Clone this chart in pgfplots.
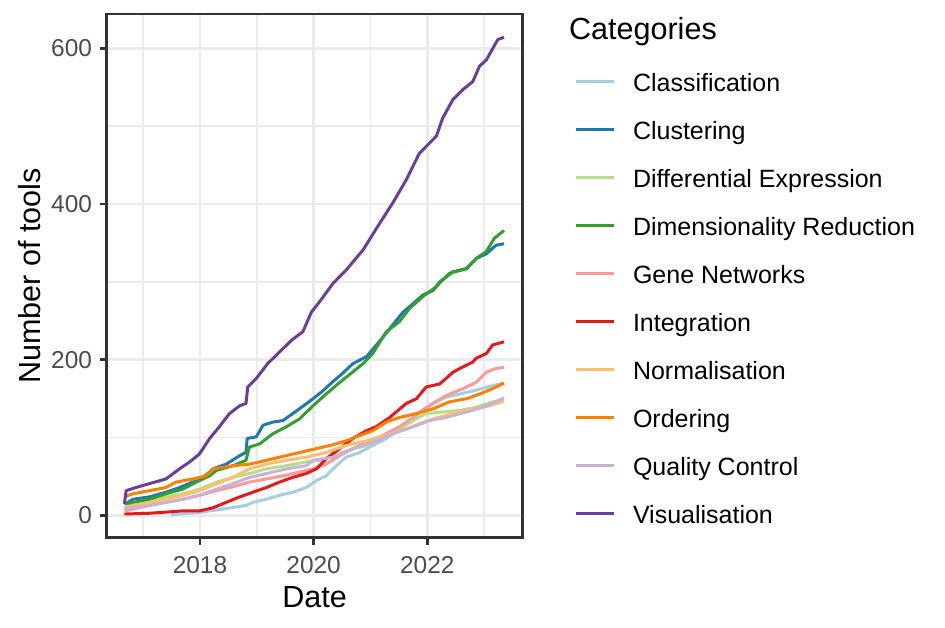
\documentclass[border=0pt]{standalone}
\usepackage{fontspec}
\setmainfont{Liberation Sans}
\usepackage{pgfplots}
\pgfplotsset{compat=1.18}

% ColorBrewer "Paired"
\definecolor{classif}{HTML}{A6CEE3}
\definecolor{cluster}{HTML}{1F78B4}
\definecolor{diffexp}{HTML}{B2DF8A}
\definecolor{dimred}{HTML}{33A02C}
\definecolor{genenet}{HTML}{FB9A99}
\definecolor{integr}{HTML}{E31A1C}
\definecolor{normal}{HTML}{FDBF6F}
\definecolor{order}{HTML}{FF7F00}
\definecolor{qualctl}{HTML}{CAB2D6}
\definecolor{visual}{HTML}{6A3D9A}
\definecolor{grey92}{gray}{0.92}
\definecolor{grey20}{gray}{0.2}
\definecolor{grey30}{gray}{0.3}

\begin{document}
\begin{tikzpicture}
\useasboundingbox (0,0) rectangle (340.2bp,-226.08bp);
\begin{axis}[
    at={(38.41bp,-193.57bp)}, anchor=south west,
    width=149.76bp, height=188.53bp, scale only axis,
    xmin=2016.358, xmax=2023.679,
    ymin=-28.4, ymax=643.9,
    xtick={2018,2020,2022}, xticklabels={2018,2020,2022},
    minor xtick={2017,2019,2021,2023},
    ytick={0,200,400,600}, minor ytick={100,300,500},
    grid=both,
    major grid style={grey92, line width=1.07bp},
    minor grid style={grey92, line width=0.53bp},
    tick pos=left, tick align=outside,
    major tick length=2.5bp, minor tick length=0pt,
    every tick/.style={grey20, line width=1.07bp},
    axis line style={grey20, line width=1.07bp},
    /pgf/number format/assume math mode=true,
    ticklabel style={font=\fontsize{8.8bp}{10bp}\selectfont, text=grey30, inner sep=0pt},
    yticklabel style={xshift=-2.6bp},
    xticklabel style={yshift=-3.9bp},
    xlabel={Date}, ylabel={Number of tools},
    label style={font=\fontsize{11bp}{13bp}\selectfont, inner sep=0pt},
    xlabel style={at={(axis description cs:0.5,-0.1335)}, anchor=base},
    ylabel style={at={(axis description cs:-0.1591,0.5)}, anchor=base},
    legend style={at={(axis description cs:1.1240,0.9166)}, anchor=north west,
        draw=none, fill=none, inner sep=0pt, outer sep=0pt, row sep=0pt,
        font=\fontsize{9bp}{10bp}\selectfont,
        nodes={inner sep=0pt, text height=12.24bp, text depth=5.04bp},
        cells={anchor=west},
        /tikz/every odd column/.append style={column sep=6.4bp}},
    legend image code/.code={\draw[#1] (0bp,0bp) -- (13.68bp,0bp);},
    every axis plot/.append style={line width=1.07bp, line join=round, no markers},
]
\addplot[classif] coordinates {
(2017.49,1) (2017.99,4) (2018.17,6) (2018.46,9) (2018.81,13) (2018.93,17)
(2019.17,21) (2019.40,26) (2019.63,30) (2019.87,36) (2020.05,45) (2020.22,51)
(2020.40,64) (2020.57,75) (2020.81,81) (2021.04,90) (2021.28,99) (2021.51,111)
(2021.75,126) (2021.98,139) (2022.10,144) (2022.33,152) (2022.57,156)
(2022.86,161) (2023.15,167) (2023.35,170)};
\addlegendentry{Classification}
\addplot[cluster] coordinates {
(2016.69,15) (2016.82,21) (2017.11,24) (2017.40,30) (2017.64,36) (2017.87,43)
(2017.99,45) (2018.17,56) (2018.23,60) (2018.46,66) (2018.70,77) (2018.81,81)
(2018.83,99) (2018.99,101) (2019.11,116) (2019.28,120) (2019.46,122)
(2019.75,137) (2019.99,150) (2020.16,160) (2020.34,172) (2020.50,182)
(2020.69,195) (2020.93,204) (2021.22,229) (2021.34,240) (2021.57,261)
(2021.75,272) (2021.92,283) (2022.10,289) (2022.22,300) (2022.45,313)
(2022.69,317) (2022.86,330) (2023.04,336) (2023.21,347) (2023.35,349)};
\addlegendentry{Clustering}
\addplot[diffexp] coordinates {
(2016.67,13) (2017.11,19) (2017.40,24) (2017.70,28) (2017.99,34) (2018.29,43)
(2018.58,49) (2018.87,54) (2019.17,60) (2019.52,64) (2019.87,69) (2020.10,71)
(2020.34,77) (2020.63,84) (2020.93,90) (2021.22,101) (2021.51,111)
(2021.75,122) (2021.98,131) (2022.27,133) (2022.57,135) (2022.86,139)
(2023.15,146) (2023.35,148)};
\addlegendentry{Differential Expression}
\addplot[dimred] coordinates {
(2016.69,13) (2016.82,17) (2017.11,21) (2017.40,28) (2017.70,34) (2017.99,45)
(2018.17,51) (2018.29,58) (2018.58,64) (2018.81,71) (2018.87,88) (2019.05,92)
(2019.28,105) (2019.52,114) (2019.75,124) (2019.99,141) (2020.22,156)
(2020.46,171) (2020.87,195) (2021.04,208) (2021.28,236) (2021.51,249)
(2021.69,266) (2021.92,281) (2022.16,294) (2022.39,311) (2022.69,317)
(2022.86,330) (2023.04,339) (2023.18,356) (2023.35,366)};
\addlegendentry{Dimensionality Reduction}
\addplot[genenet] coordinates {
(2016.67,6) (2017.11,13) (2017.40,17) (2017.70,21) (2017.99,26) (2018.29,32)
(2018.58,37) (2018.87,43) (2019.17,47) (2019.46,51) (2019.75,56) (2019.99,60)
(2020.22,66) (2020.46,77) (2020.69,86) (2020.93,94) (2021.22,103)
(2021.51,114) (2021.75,126) (2021.92,135) (2022.10,144) (2022.33,154)
(2022.63,163) (2022.86,171) (2023.04,184) (2023.21,189) (2023.35,190)};
\addlegendentry{Gene Networks}
\addplot[integr] coordinates {
(2016.67,2) (2017.11,3) (2017.70,6) (2017.99,6) (2018.23,10) (2018.46,17)
(2018.70,24) (2018.93,30) (2019.17,36) (2019.40,43) (2019.63,49) (2019.87,54)
(2020.05,60) (2020.22,73) (2020.46,86) (2020.69,99) (2020.93,109)
(2021.10,114) (2021.34,126) (2021.63,144) (2021.81,150) (2021.98,165)
(2022.22,169) (2022.33,176) (2022.45,184) (2022.63,191) (2022.80,197)
(2022.86,202) (2023.04,208) (2023.15,219) (2023.35,223)};
\addlegendentry{Integration}
\addplot[normal] coordinates {
(2016.67,11) (2017.11,17) (2017.40,21) (2017.70,26) (2017.99,32) (2018.23,39)
(2018.58,49) (2018.87,60) (2019.17,66) (2019.52,71) (2019.87,75) (2020.22,81)
(2020.57,90) (2020.93,96) (2021.28,103) (2021.63,111) (2021.86,118)
(2022.10,124) (2022.45,131) (2022.80,137) (2023.10,141) (2023.35,147)};
\addlegendentry{Normalisation}
\addplot[order] coordinates {
(2016.67,24) (2016.82,28) (2017.11,32) (2017.40,36) (2017.58,43) (2017.87,47)
(2018.11,51) (2018.23,60) (2018.58,64) (2018.87,66) (2019.17,71) (2019.52,77)
(2019.87,83) (2020.05,86) (2020.34,91) (2020.57,96) (2020.75,101)
(2021.04,109) (2021.28,120) (2021.51,126) (2021.81,131) (2022.10,137)
(2022.39,146) (2022.69,150) (2022.92,156) (2023.15,163) (2023.35,170)};
\addlegendentry{Ordering}
\addplot[qualctl] coordinates {
(2016.67,9) (2017.11,13) (2017.40,17) (2017.70,21) (2017.99,26) (2018.29,34)
(2018.58,41) (2018.87,49) (2019.17,54) (2019.52,60) (2019.87,64) (2019.99,71)
(2020.34,75) (2020.69,86) (2021.04,94) (2021.39,105) (2021.75,114)
(2022.04,122) (2022.33,126) (2022.69,133) (2022.98,139) (2023.35,151)};
\addlegendentry{Quality Control}
\addplot[visual] coordinates {
(2016.67,15) (2016.70,32) (2016.87,36) (2017.11,41) (2017.40,47) (2017.64,60)
(2017.82,69) (2017.99,79) (2018.17,99) (2018.34,114) (2018.52,131)
(2018.70,141) (2018.81,144) (2018.84,165) (2018.99,176) (2019.19,195)
(2019.40,210) (2019.61,225) (2019.81,236) (2019.96,261) (2020.13,277)
(2020.34,298) (2020.57,315) (2020.87,341) (2021.16,375) (2021.39,401)
(2021.63,431) (2021.86,465) (2022.16,487) (2022.27,510) (2022.45,534)
(2022.63,547) (2022.80,557) (2022.92,577) (2023.04,585) (2023.24,611)
(2023.35,614)};
\addlegendentry{Visualisation}
\end{axis}
\node[anchor=base west, inner sep=0pt, font=\fontsize{11bp}{13bp}\selectfont]
    at (204.66bp,-14.15bp) {Categories};
\end{tikzpicture}
\end{document}
